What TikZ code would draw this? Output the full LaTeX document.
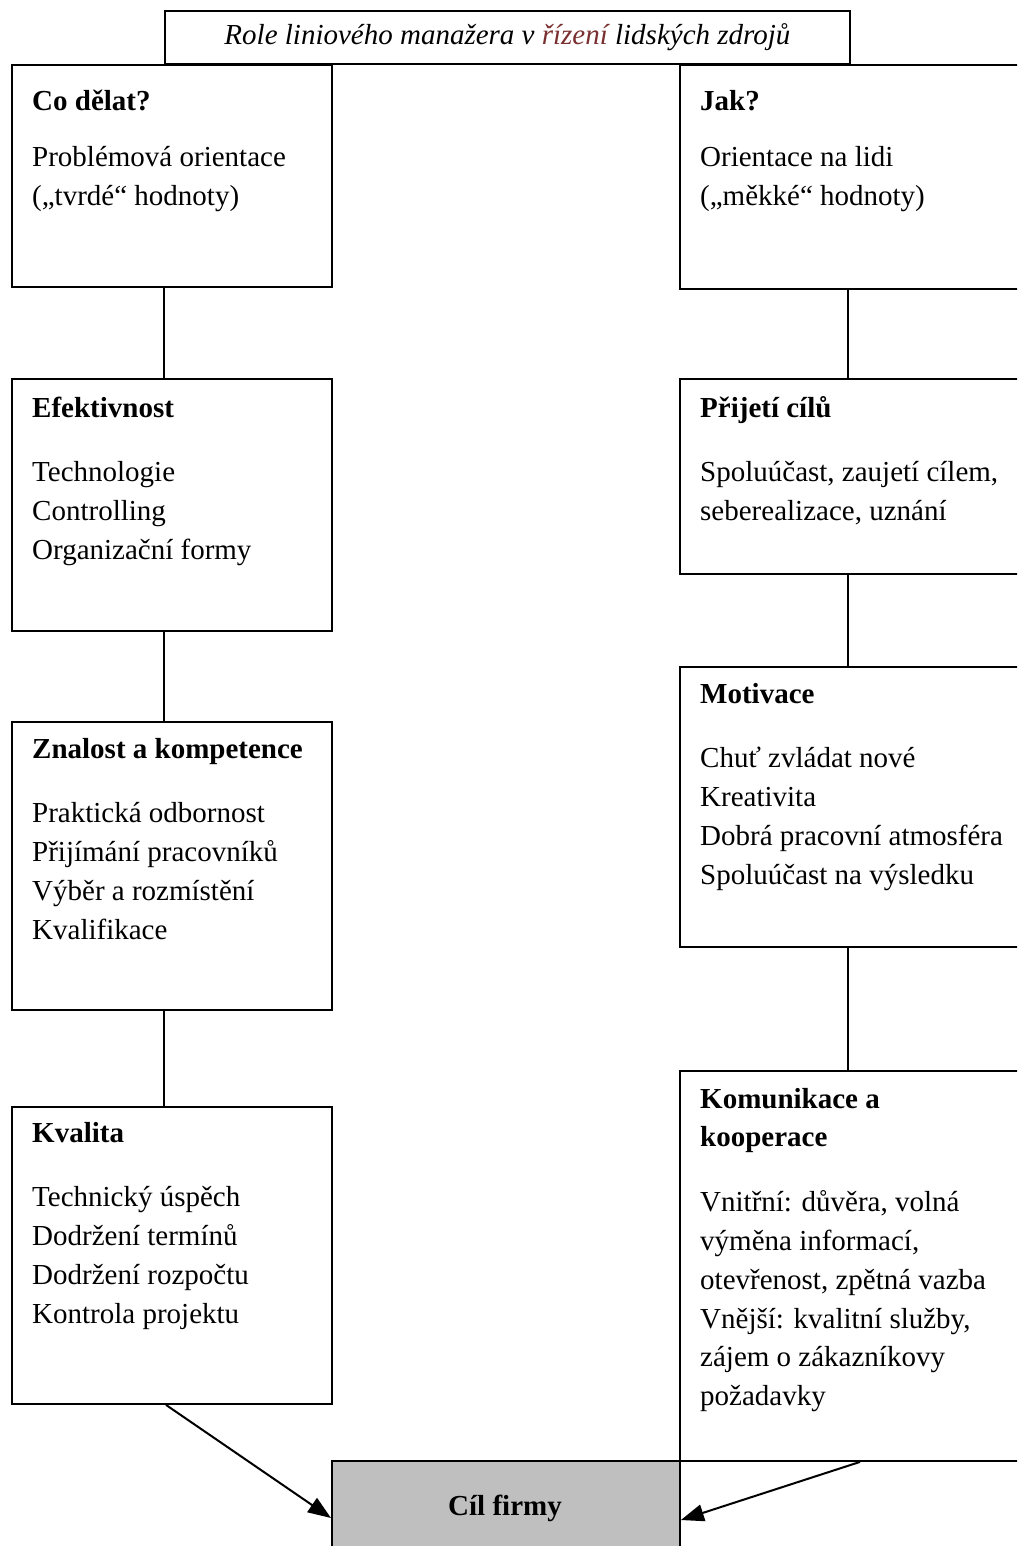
\documentclass[tikz,border=0pt]{standalone}
\usepackage{fontspec}
\setmainfont{Liberation Serif}
\usetikzlibrary{calc,arrows.meta}
\definecolor{accent}{RGB}{122,48,48}
\definecolor{goalgray}{RGB}{191,191,191}
\begin{document}
\begin{tikzpicture}[x=1pt,y=-1pt,
  box/.style={draw, line width=1.9pt, rectangle, inner sep=0pt, anchor=north west},
  txt/.style={anchor=north west, inner sep=0pt, align=left,
              font=\fontsize{29}{38.8}\selectfont},
  link/.style={line width=1.5pt},
  goal/.style={-{Triangle[length=23pt,width=17pt]}, line width=2pt}]
\useasboundingbox (0,0) rectangle (1017,1546);
\clip (0,0) rectangle (1017,1546);
\fill[white] (0,0) rectangle (1017,1546);

% title
\node[box, minimum width=685pt, minimum height=53pt,
      font=\fontsize{29}{38.8}\selectfont\itshape] (title) at (164,10)
  {Role liniového manažera v \textcolor{accent}{řízení} lidských zdrojů};

% left column
\node[box, minimum width=320pt, minimum height=222pt] (codelat) at (11,64) {};
\node[box, minimum width=320pt, minimum height=252pt] (efekt)   at (11,378) {};
\node[box, minimum width=320pt, minimum height=288pt] (znalost) at (11,721) {};
\node[box, minimum width=320pt, minimum height=297pt] (kvalita) at (11,1106) {};

% right column
\node[box, minimum width=400pt, minimum height=224pt] (jak)     at (679,64) {};
\node[box, minimum width=400pt, minimum height=195pt] (prijeti) at (679,378) {};
\node[box, minimum width=400pt, minimum height=280pt] (motiv)   at (679,666) {};
\node[box, minimum width=400pt, minimum height=390pt] (komun)   at (679,1070) {};

% goal box
\node[box, fill=goalgray, minimum width=348pt, minimum height=120pt] (cil) at (331,1460) {};
\node[anchor=base, inner sep=0pt, font=\fontsize{29}{38.8}\selectfont\bfseries]
  (ciltext) at (505,1515) {Cíl firmy};

% box texts
\node[txt] (codelat-t) at (32,82.8)
  {\textbf{Co dělat?}\strut\\[18pt]Problémová orientace\\(„tvrdé“ hodnoty)};
\node[txt] (efekt-t) at (32,389.8)
  {\textbf{Efektivnost}\strut\\[26pt]Technologie\\Controlling\\Organizační formy};
\node[txt] (znalost-t) at (32,730.8)
  {\textbf{Znalost a kompetence}\strut\\[26pt]Praktická odbornost\\Přijímání pracovníků\\Výběr a rozmístění\\Kvalifikace};
\node[txt] (kvalita-t) at (32,1114.8)
  {\textbf{Kvalita}\strut\\[26pt]Technický úspěch\\Dodržení termínů\\Dodržení rozpočtu\\Kontrola projektu};

\node[txt] (jak-t) at (700,82.8)
  {\textbf{Jak?}\strut\\[18pt]Orientace na lidi\\(„měkké“ hodnoty)};
\node[txt] (prijeti-t) at (700,389.8)
  {\textbf{Přijetí cílů}\strut\\[26pt]Spoluúčast, zaujetí cílem,\\seberealizace, uznání};
\node[txt] (motiv-t) at (700,675.8)
  {\textbf{Motivace}\strut\\[26pt]Chuť zvládat nové\\Kreativita\\Dobrá pracovní atmosféra\\Spoluúčast na výsledku};
\node[txt] (komun-t) at (700,1080.8)
  {\textbf{Komunikace a}\strut\\\textbf{kooperace}\\[26pt]Vnitřní: důvěra, volná\\výměna informací,\\otevřenost, zpětná vazba\\Vnější: kvalitní služby,\\zájem o zákazníkovy\\požadavky};

% connectors
\coordinate (lx) at (164,0);
\coordinate (rx) at (848,0);
\draw[link] (codelat.south -| lx) -- (efekt.north -| lx);
\draw[link] (efekt.south -| lx) -- (znalost.north -| lx);
\draw[link] (znalost.south -| lx) -- (kvalita.north -| lx);
\draw[link] (jak.south -| rx) -- (prijeti.north -| rx);
\draw[link] (prijeti.south -| rx) -- (motiv.north -| rx);
\draw[link] (motiv.south -| rx) -- (komun.north -| rx);

% arrows into the goal
\coordinate (la) at (166,0);
\coordinate (ra) at (860,0);
\draw[goal] (kvalita.south -| la) -- ($(cil.north west)+(0,58)$);
\draw[goal] (komun.south -| ra) -- ($(cil.north east)+(0,60)$);
\end{tikzpicture}
\end{document}
